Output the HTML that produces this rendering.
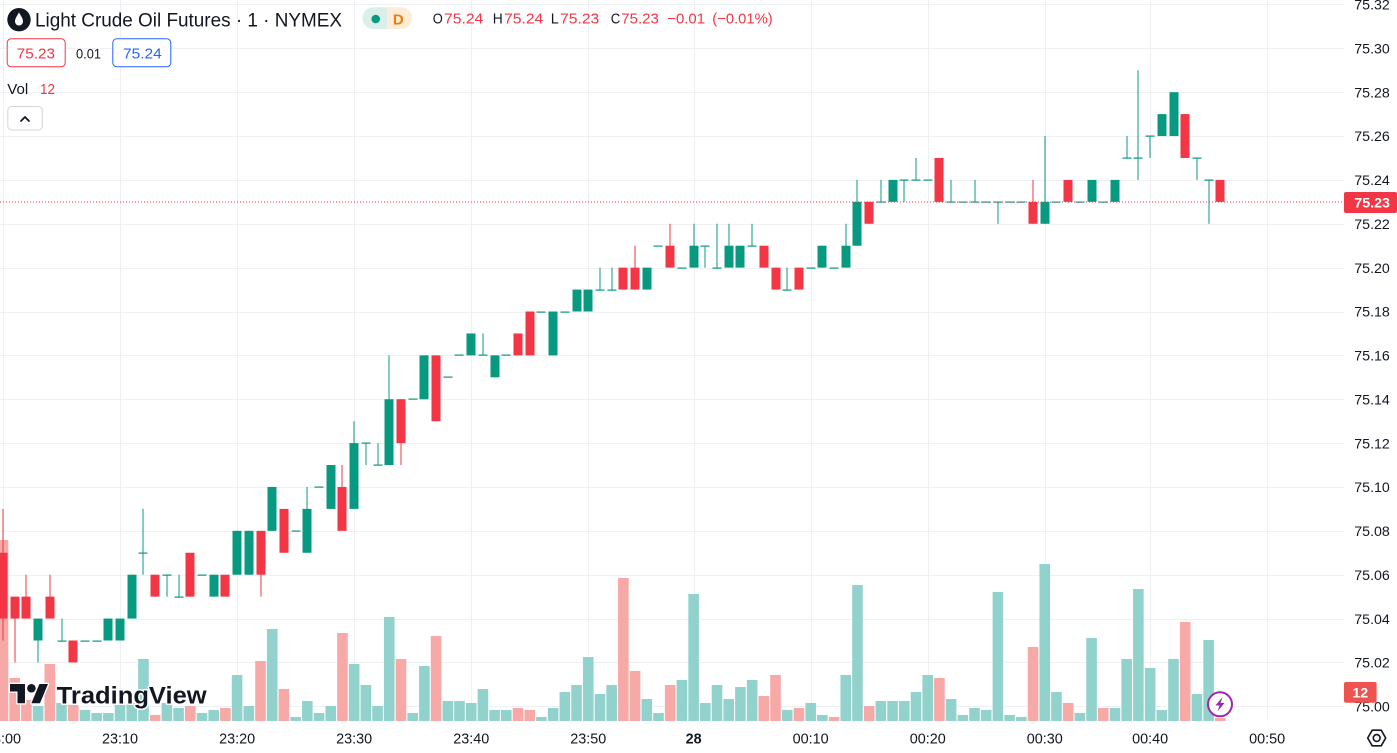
<!DOCTYPE html>
<html>
<head>
<meta charset="utf-8">
<style>
html,body{margin:0;padding:0;background:#fff;overflow:hidden;width:1397px;height:753px;}
svg{position:absolute;left:0;top:0;display:block;}
</style>
</head>
<body>
<svg id="c" width="1397" height="753" viewBox="0 0 1397 753" xmlns="http://www.w3.org/2000/svg" font-family="'Liberation Sans', Arial, sans-serif">
  <rect x="0" y="0" width="1397" height="753" fill="#ffffff"/>
  <g id="grid" stroke="#eff0f3" stroke-width="1"></g>
  <g id="vol"></g>
  <g id="candles"></g>
  <line x1="0" y1="202" x2="1344" y2="202" stroke="#f23645" stroke-width="1" stroke-dasharray="1,2"/>

  <!-- header -->
  <circle cx="19" cy="19.7" r="11.7" fill="#131722"/>
  <path d="M19 12.5 C17 16 15 18.5 15 21.5 A4 4 0 0 0 23 21.5 C23 18.5 21 16 19 12.5 Z" fill="#ffffff"/>
  <text x="35" y="26.5" font-size="19" fill="#131722" textLength="307" lengthAdjust="spacingAndGlyphs">Light Crude Oil Futures · 1 · NYMEX</text>
  <path d="M373.3 7.3 H387 V29 H373.3 A10.85 10.85 0 0 1 373.3 7.3 Z" fill="#d9f0ea"/>
  <path d="M387 7.3 H401.2 A10.85 10.85 0 0 1 401.2 29 H387 Z" fill="#fdecd7"/>
  <circle cx="375.7" cy="19" r="4.3" fill="#089981"/>
  <text x="398.3" y="24.5" font-size="15" font-weight="bold" fill="#f57c00" text-anchor="middle">D</text>

  <g font-size="15">
    <text x="432.7" y="23.5" fill="#131722" textLength="10" lengthAdjust="spacingAndGlyphs">O</text>
    <text x="444" y="23.5" fill="#f23645" textLength="39.3" lengthAdjust="spacingAndGlyphs">75.24</text>
    <text x="492.7" y="23.5" fill="#131722" textLength="10" lengthAdjust="spacingAndGlyphs">H</text>
    <text x="504" y="23.5" fill="#f23645" textLength="39.3" lengthAdjust="spacingAndGlyphs">75.24</text>
    <text x="550.7" y="23.5" fill="#131722" textLength="8" lengthAdjust="spacingAndGlyphs">L</text>
    <text x="560" y="23.5" fill="#f23645" textLength="39.3" lengthAdjust="spacingAndGlyphs">75.23</text>
    <text x="610.7" y="23.5" fill="#131722" textLength="9.5" lengthAdjust="spacingAndGlyphs">C</text>
    <text x="621.3" y="23.5" fill="#f23645" textLength="37.5" lengthAdjust="spacingAndGlyphs">75.23</text>
    <text x="667.3" y="23.5" fill="#f23645" textLength="37.7" lengthAdjust="spacingAndGlyphs">−0.01</text>
    <text x="712.3" y="23.5" fill="#f23645" textLength="60.4" lengthAdjust="spacingAndGlyphs">(−0.01%)</text>
  </g>

  <rect x="7.2" y="38.8" width="58" height="28" rx="4" fill="#fff" stroke="#f23645" stroke-width="1"/>
  <text x="16.7" y="58.5" font-size="15" fill="#f23645" textLength="38.3" lengthAdjust="spacingAndGlyphs">75.23</text>
  <text x="76" y="58.5" font-size="14" fill="#131722" textLength="25" lengthAdjust="spacingAndGlyphs">0.01</text>
  <rect x="112.8" y="38.8" width="58" height="28" rx="4" fill="#fff" stroke="#2962ff" stroke-width="1"/>
  <text x="123" y="58.5" font-size="15" fill="#2962ff" textLength="38.7" lengthAdjust="spacingAndGlyphs">75.24</text>

  <text x="7.3" y="94" font-size="14.5" fill="#131722" textLength="21" lengthAdjust="spacingAndGlyphs">Vol</text>
  <text x="40" y="94" font-size="14.5" fill="#f23645" textLength="15" lengthAdjust="spacingAndGlyphs">12</text>
  <rect x="7.8" y="106.5" width="34.5" height="23.5" rx="4" fill="#fff" stroke="#d1d4dc" stroke-width="1"/>
  <polyline points="21,121 25,117 29,121" fill="none" stroke="#131722" stroke-width="1.8" stroke-linecap="round" stroke-linejoin="round"/>

  <!-- TradingView logo -->
  <g transform="translate(10,679.7) scale(1.07)" fill="#131722" stroke="#ffffff" stroke-width="2.5" paint-order="stroke" stroke-linejoin="round">
    <path d="M14 22H7V11H0V4h14v18z"/>
    <circle cx="20" cy="8" r="4"/>
    <path d="M28 22h-8l7.5-18h8L28 22z"/>
  </g>
  <text x="56.7" y="703.3" font-size="24.5" font-weight="bold" fill="#131722" stroke="#ffffff" stroke-width="3" paint-order="stroke" stroke-linejoin="round" textLength="150" lengthAdjust="spacingAndGlyphs">TradingView</text>

  <!-- lightning icon -->
  <circle cx="1220" cy="704.3" r="12" fill="#ffffff" stroke="#9c27b0" stroke-width="2"/>
  <polygon points="1222.5,697 1215.5,705.5 1219.5,705.5 1217.5,711.5 1224.5,703 1220.5,703" fill="#9c27b0"/>

  <!-- axes labels -->
  <g id="paxis" font-size="14.2" fill="#131722"></g>
  <g id="taxis" font-size="14.4" fill="#131722" text-anchor="middle"></g>

  <rect x="1344" y="192" width="53" height="21" rx="2" fill="#f23645"/>
  <text x="1354.3" y="207.3" font-size="14.2" fill="#ffffff" font-weight="bold" textLength="35.7" lengthAdjust="spacingAndGlyphs">75.23</text>
  <rect x="1344" y="682" width="32.6" height="20.7" rx="2" fill="#ef5350"/>
  <text x="1360.3" y="697.3" font-size="14.2" fill="#ffffff" font-weight="bold" text-anchor="middle">12</text>

  <!-- settings icon -->
  <polygon points="1367.7,738 1372.2,730.2 1381.2,730.2 1385.7,738 1381.2,745.8 1372.2,745.8" fill="none" stroke="#131722" stroke-width="1.6" stroke-linejoin="round"/>
  <circle cx="1376.7" cy="738" r="3.4" fill="none" stroke="#131722" stroke-width="1.6"/>
</svg>
<script>
(function(){
  var NS="http://www.w3.org/2000/svg";
  function el(tag,attrs,parent,txt){var e=document.createElementNS(NS,tag);for(var k in attrs)e.setAttribute(k,attrs[k]);if(txt!==undefined)e.textContent=txt;parent.appendChild(e);return e;}
  function Y(c){return 706.3 - c*21.933;}
  function X(i){return 3 + 11.705*i;}
  var grid=document.getElementById('grid');
  // horizontal grid
  for(var k=0;k<=16;k++){var yy=Math.round(Y(k*2))+0.5;el('line',{x1:0,y1:yy,x2:1344,y2:yy},grid);}
  var tIdx=[0,10,20,30,40,50,59,69,79,89,98,108];
  var tLab=["23:00","23:10","23:20","23:30","23:40","23:50","28","00:10","00:20","00:30","00:40","00:50"];
  for(var j=0;j<tIdx.length;j++){var xx=Math.round(X(tIdx[j]))+0.5;el('line',{x1:xx,y1:0,x2:xx,y2:721},grid);}
  var D=[[7,9,3,4],[5,5,2,4],[5,6,4,4],[3,4,2,4],[5,6,4,4],[3,4,3,3],[3,3,2,2],[3,3,3,3],[3,3,3,3],[3,4,3,4],
  [3,4,3,4],[4,6,4,6],[7,9,6,7],[6,6,5,5],[6,6,5,6],[5,6,5,5],[7,7,5,5],[6,6,6,6],[5,6,5,6],[6,6,5,5],
  [6,8,6,8],[6,8,6,8],[8,8,5,6],[8,10,8,10],[9,9,7,7],[8,8,8,8],[7,10,7,9],[10,10,10,10],[9,11,9,11],[10,11,8,8],
  [9,13,9,12],[12,12,11,12],[11,12,11,11],[11,16,11,14],[14,14,11,12],[14,14,14,14],[14,16,14,16],[16,16,13,13],[15,15,15,15],[16,16,16,16],
  [16,17,16,17],[16,17,16,16],[15,16,15,16],[16,16,16,16],[17,17,16,16],[18,18,16,16],[18,18,18,18],[16,18,16,18],[18,18,18,18],[18,19,18,19],
  [18,19,18,19],[19,20,19,19],[19,20,19,19],[20,20,19,19],[20,21,19,19],[19,20,19,20],[21,21,21,21],[21,22,20,20],[20,20,20,20],[20,22,20,21],
  [21,21,20,21],[20,22,20,20],[20,22,20,21],[20,21,20,21],[21,22,21,21],[21,21,20,20],[20,20,19,19],[19,20,19,19],[20,20,19,19],[20,20,20,20],
  [20,21,20,21],[20,20,20,20],[20,22,20,21],[21,24,21,23],[23,23,22,22],[23,24,23,23],[23,24,23,24],[24,24,23,24],[24,25,24,24],[24,24,24,24],
  [25,25,23,23],[23,24,23,23],[23,23,23,23],[23,24,23,23],[23,23,23,23],[23,23,22,23],[23,23,23,23],[23,23,23,23],[23,24,22,22],[22,26,22,23],
  [23,23,23,23],[24,24,23,23],[23,23,23,23],[23,24,23,24],[23,23,23,23],[23,24,23,24],[25,26,25,25],[25,29,24,25],[26,26,25,26],[26,27,26,27],
  [26,28,26,28],[27,27,25,25],[25,25,24,25],[24,24,22,24],[24,24,23,23]];
  var V=[540,678,700,706,664,703,705,710,713,713,705,703,659,715,703,708,706,713,710,708,
  675,706,661,629,689,717,701,713,706,633,664,685,706,617,659,713,666,636,701,701,
  703,689,710,710,708,710,717,708,692,685,657,694,685,578,671,699,713,685,680,594,
  703,685,699,687,680,696,675,710,708,703,715,717,675,585,706,701,701,701,692,675,
  678,699,715,708,710,592,715,717,647,564,692,703,713,638,708,708,659,589,668,710,
  659,622,694,640,718];
  var vol=document.getElementById('vol'),cg=document.getElementById('candles');
  var GREEN="#089981",RED="#f23645",VG="#92d2cc",VR="#f7a9a7";
  for(var i=0;i<D.length;i++){
    var o=D[i][0],h=D[i][1],l=D[i][2],c=D[i][3];
    var cx=X(i);
    var up=c>=o;
    var vred=!up||i===71||i===94;
    el('rect',{x:(cx-5.3).toFixed(2),y:V[i],width:10.6,height:(721-V[i]),fill:vred?VR:VG},vol);
    var col=up?GREEN:RED;
    var wx=Math.round(cx)-0.5;
    if(h>l){el('rect',{x:wx,y:Y(h).toFixed(2),width:1,height:(Y(l)-Y(h)).toFixed(2),fill:col},cg);}
    if(o===c){
      var yy=Math.round(Y(o));
      el('rect',{x:(Math.round(cx)-4.5),y:yy-0.5,width:9,height:1.2,fill:col},cg);
    } else {
      var top=Y(Math.max(o,c)),bot=Y(Math.min(o,c));
      el('rect',{x:(Math.round(cx)-4.5),y:top.toFixed(2),width:9,height:(bot-top).toFixed(2),fill:col},cg);
    }
  }
  var pa=document.getElementById('paxis');
  for(var k=0;k<=16;k++){
    var p=(75+k*0.02).toFixed(2);
    el('text',{x:1354.3,y:(Y(k*2)+5.2).toFixed(1)},pa,p);
  }
  var ta=document.getElementById('taxis');
  for(var j=0;j<tIdx.length;j++){
    var a={x:X(tIdx[j]).toFixed(1),y:743.3};
    if(tLab[j]==="28")a['font-weight']='bold';
    el('text',a,ta,tLab[j]);
  }
})();
</script>
</body>
</html>
